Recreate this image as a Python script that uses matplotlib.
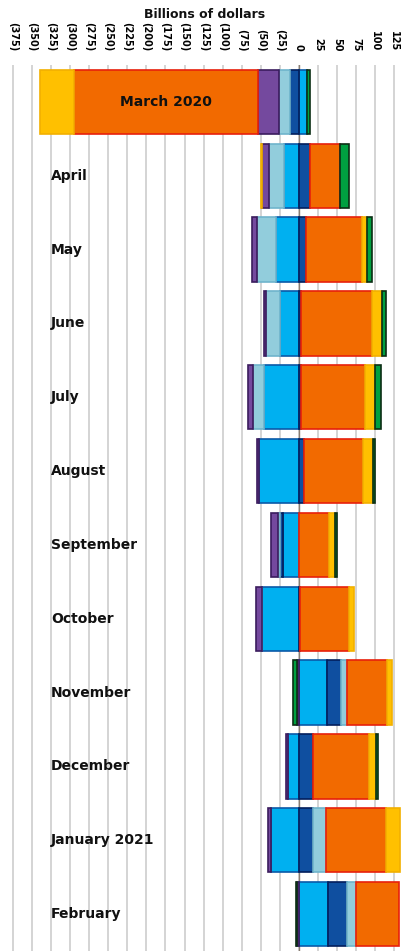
import matplotlib
matplotlib.use("Agg")
import matplotlib.pyplot as plt
import numpy as np

# monthly values, billions of dollars
months = ['March 2020', 'April', 'May', 'June', 'July', 'August', 'September',
          'October', 'November', 'December', 'January 2021', 'February']
blue       = [10, -19, -29.5, -24.5, -46, -53, -21, -48, 37, -14, -37, 38]
dark_blue  = [-12, 15, 9, 3, 3, 6.5, -4, 1, 17.5, 18, 18.5, 25]
light_blue = [-14, -20, -26, -19, -14, 0, -2, -1, 8, 0, 17.5, 12]
purple     = [-27.5, -9, -6.5, -2, -6.5, -2, -10, -7, -3, -3.5, -3, -2]
orange     = [-242, 39, 74, 93, 84, 77, 39, 64, 52.5, 74, 78.5, 56]
yellow     = [-44, -2, 6.5, 13, 13, 13, 8, 6.5, 7.5, 9.5, 18, 0]
green      = [5, 12, 6, 4.5, 8, 3, 2.5, 0, -5, 2.5, 0, -2]

ticks = list(range(-375, 126, 25))
tick_labels = ['(%d)' % -t if t < 0 else str(t) for t in ticks]

series = [
    (blue, '#00B0F0', '#0A5AA8'),
    (dark_blue, '#0F4FA0', '#021E5C'),
    (light_blue, '#92CDDC', '#6FB4CC'),
    (purple, '#74499E', '#3B1C5E'),
    (orange, '#F26A00', '#E8200C'),
    (yellow, '#FFC000', '#F2B000'),
    (green, '#00A040', '#0B2E14'),
]

fig = plt.figure(figsize=(4.01, 9.51), dpi=100)
ax = fig.add_axes([0, 0, 1, 1 - 65 / 951])

y = np.arange(len(months))
pos = np.zeros(len(months))
neg = np.zeros(len(months))
orange_mid = None
for vals, fc, ec in series:
    v = np.array(vals, dtype=float)
    left = np.where(v >= 0, pos, neg)
    m = v != 0
    ax.barh(y[m], v[m], left=left[m], height=0.87, color=fc,
            edgecolor=ec, linewidth=1.2, zorder=3)
    if vals is orange:
        orange_mid = left + v / 2
    pos = pos + np.where(v > 0, v, 0)
    neg = neg + np.where(v < 0, v, 0)

# gridlines and zero line
for t in ticks:
    ax.axvline(t, color='#CDCDCD', lw=1.2, zorder=1)
ax.axvline(0, color='#8A7E72', lw=1.0, zorder=2)

# month labels
ax.text(orange_mid[0], 0, months[0], ha='center', va='center',
        fontsize=10, fontweight='bold', color='#111111', zorder=5)
for i in range(1, len(months)):
    ax.text(-325, i, months[i], ha='left', va='center',
            fontsize=10, fontweight='bold', color='#111111', zorder=5)

ax.set_xlim(-391.9, 133.7)
ax.set_ylim(11.5, -0.5)
ax.set_xticks(ticks)
ax.set_xticklabels(tick_labels, fontsize=7, fontweight='bold')
for lbl, t in zip(ax.get_xticklabels(), ticks):
    lbl.set_color('#FF0000' if t < 0 else '#111111')
ax.tick_params(axis='x', top=True, labeltop=True, bottom=False,
               labelbottom=False, length=0, pad=10, labelrotation=-90)
ax.set_yticks([])
for s in ax.spines.values():
    s.set_visible(False)

fig.text(205 / 401, 1 - 15 / 951, 'Billions of dollars', ha='center',
         va='center', fontsize=9, fontweight='bold', color='#111111')

fig.savefig('out.png', dpi=100)
